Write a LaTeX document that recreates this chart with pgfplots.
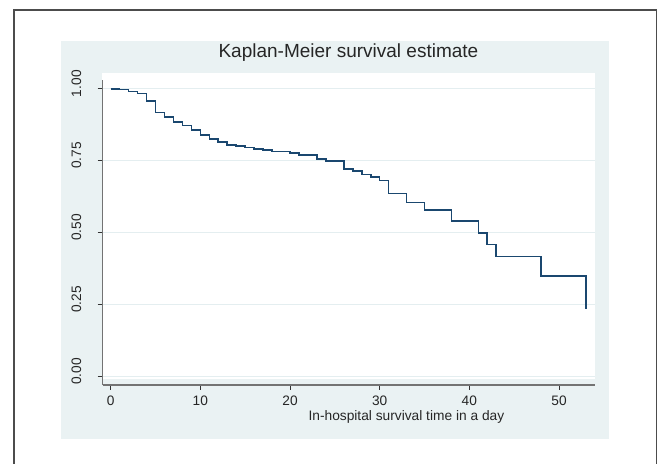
\documentclass[border=0pt]{standalone}
\usepackage{pgfplots}
\pgfplotsset{compat=1.18}
\usepackage{fontspec}
\setmainfont{Liberation Sans}
\definecolor{panel}{RGB}{234,242,243}
\definecolor{navy}{RGB}{26,71,111}
\definecolor{gridc}{RGB}{228,238,240}
\begin{document}
\begin{tikzpicture}[x=1bp,y=1bp]
\path[use as bounding box] (0,0) rectangle (658,464);
\draw[line width=1.4bp, black!70] (14,-3) -- (14,454) -- (656.7,454) -- (656.7,-3);
\fill[panel] (61,24.7) rectangle (609,423);
\fill[white] (101.7,85.3) rectangle (595,391.3);
\begin{axis}[
  at={(102.5bp,79bp)}, anchor=south west,
  scale only axis, width=492.5bp, height=305bp,
  xmin=-0.9146, xmax=54.016, ymin=-0.0302, ymax=1.0303,
  axis x line*=bottom, axis y line*=left,
  axis line style={line width=1.4bp, color=black!55},
  tick align=outside, major tick length=5bp,
  tick style={line width=0.8bp, color=black!80},
  xtick={0,10,20,30,40,50},
  ytick={0,0.25,0.5,0.75,1},
  yticklabels={0.00,0.25,0.50,0.75,1.00},
  /pgf/number format/assume math mode=true,
  ymajorgrids,
  major grid style={line width=1bp, color=gridc},
  xticklabel style={font=\fontsize{13.7bp}{16bp}\selectfont, text=black!85, anchor=base, yshift=-16bp},
  yticklabel style={font=\fontsize{13.7bp}{16bp}\selectfont, text=black!85, xshift=-16bp, yshift=5bp, rotate=90, anchor=south, inner sep=0pt},
  title={Kaplan-Meier survival estimate},
  title style={at={(axis description cs:0.4993,1.0525)}, anchor=base, font=\fontsize{19bp}{22bp}\selectfont, text=black!85, inner sep=0pt},
  xlabel={In-hospital survival time in a day},
  xlabel style={at={(axis description cs:0.617,-0.1164)}, anchor=base, font=\fontsize{13.75bp}{16bp}\selectfont, text=black!85, inner sep=0pt},
  clip=false,
]
\addplot[const plot, color=navy, line width=1.6bp] coordinates {
(0,1.000) (1,0.997) (2,0.990) (3,0.983) (4,0.958) (5,0.917) (6,0.902)
(7,0.885) (8,0.872) (9,0.856) (10,0.838) (11,0.825) (12,0.814) (13,0.805)
(14,0.800) (15,0.796) (16,0.791) (17,0.786) (18,0.781) (20,0.776) (21,0.770)
(23,0.756) (24,0.749) (26,0.721) (27,0.713) (28,0.702) (29,0.693) (30,0.681)
(31,0.636) (33,0.604) (35,0.578) (38,0.541) (41,0.499) (42,0.458) (43,0.416)
(48,0.348) (53,0.348) (53,0.233)
};
\end{axis}
\end{tikzpicture}
\end{document}
